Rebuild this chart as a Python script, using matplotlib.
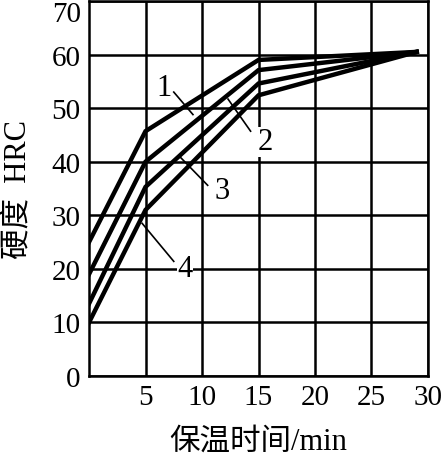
import matplotlib.pyplot as plt
import matplotlib.transforms as mtransforms

# Data (holding time in min, hardness HRC)
time_pts = [0, 5, 15, 29]
hrc_1 = [25, 45.7, 59.0, 60.5]
hrc_2 = [19, 40.0, 57.1, 60.5]
hrc_3 = [13.5, 35.3, 54.6, 60.5]
hrc_4 = [10, 31.0, 52.4, 60.5]
curve_labels = ['1', '2', '3', '4']

x_ticks = [5, 10, 15, 20, 25, 30]
y_ticks = [0, 10, 20, 30, 40, 50, 60, 70]

serif = ['Liberation Serif', 'DejaVu Serif']
cjk = ['Liberation Serif', 'Noto Sans CJK SC', 'DejaVu Sans']

fig = plt.figure(figsize=(4.46, 4.56), dpi=100)
ax = fig.add_axes([0.1996, 0.1732, 0.76, 0.8224])

for ys in [hrc_1, hrc_2, hrc_3, hrc_4]:
    ax.plot(time_pts, ys, color='black', lw=3.2, solid_joinstyle='miter', zorder=3)

ax.set_xlim(0, 30)
ax.set_ylim(0, 70)
ax.set_xticks(x_ticks)
ax.set_yticks(y_ticks)
ax.set_xticklabels([str(t) for t in x_ticks], family=serif, fontsize=21)
ax.set_yticklabels([str(t) for t in y_ticks], family=serif, fontsize=21)
ax.tick_params(length=0, pad=6)
ax.grid(True, color='black', lw=1.8)
for s in ax.spines.values():
    s.set_linewidth(1.8)

# top label sits a bit lower so it stays inside the figure
top_lab = ax.get_yticklabels()[-1]
top_lab.set_transform(top_lab.get_transform() +
                      mtransforms.ScaledTranslation(0, -0.1, fig.dpi_scale_trans))

# curve labels with leader lines
label_pos = [(6.6, 53.9), (15.6, 43.7), (11.8, 34.7), (8.5, 20.0)]
leader_from = [(7.5, 53.0), (14.3, 45.7), (10.5, 35.6), (7.5, 21.4)]
leader_to = [(9.2, 48.8), (12.3, 51.7), (8.1, 40.8), (4.7, 28.5)]
for lab, p, a, b in zip(curve_labels, label_pos, leader_from, leader_to):
    ax.plot([a[0], b[0]], [a[1], b[1]], color='black', lw=1.2, zorder=4)
    ax.text(p[0], p[1], lab, family=serif, fontsize=22, ha='center', va='center',
            zorder=5, bbox=dict(facecolor='white', edgecolor='none', pad=0.5))

ax.set_xlabel('保温时间/min', family=cjk, fontsize=22, labelpad=12)
ax.set_ylabel('硬度  HRC', family=cjk, fontsize=22, labelpad=14)

fig.savefig('out.png', dpi=100)
